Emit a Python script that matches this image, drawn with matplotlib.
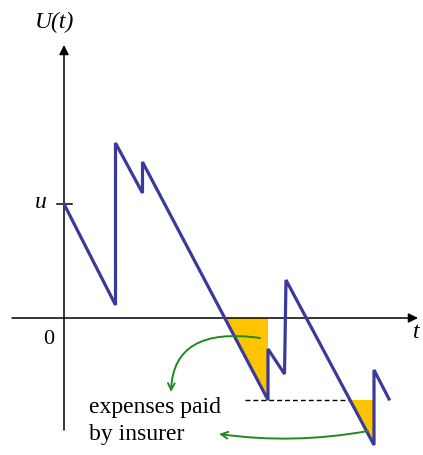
import numpy as np
import matplotlib
matplotlib.use("Agg")
import matplotlib.pyplot as plt

# Surplus process U(t): piecewise linear with jumps (premium income / claims)
t_pts = [0.0, 5.15, 5.15, 7.85, 7.85, 20.4, 20.4, 22.05, 22.2, 31.0, 31.0, 32.5]
U_pts = [11.4, 1.3, 17.5, 12.5, 15.6, -8.2, -3.1, -5.6, 3.8, -12.7, -5.2, -8.1]
u_level = 11.4
min_level = -8.2
dash_start = 18.1

BLUE = "#3a3a9c"
GOLD = "#FFC400"
GREEN = "#1f8a1f"

fig = plt.figure(figsize=(4.23, 4.55), dpi=100)
ax = fig.add_axes([0, 0, 1, 1])
ax.set_xlim(-6.4, 35.9)
ax.set_ylim(-13.7, 31.8)
ax.axis("off")

serif = ["Liberation Serif", "DejaVu Serif"]

# axes with arrows
ax.annotate("", xy=(35.4, 0), xytext=(-5.2, 0),
            arrowprops=dict(arrowstyle="-|>", color="black", lw=1.1,
                            mutation_scale=14, shrinkA=0, shrinkB=0))
ax.annotate("", xy=(0, 27.3), xytext=(0, -11.2),
            arrowprops=dict(arrowstyle="-|>", color="black", lw=1.1,
                            mutation_scale=14, shrinkA=0, shrinkB=0))
ax.plot([-0.7, 0.8], [u_level, u_level], color="black", lw=1.1)

t_arr = np.array(t_pts)
U_arr = np.array(U_pts)

# first ruin region: segment from index 4 to 5 crossing zero
t0, t1 = t_arr[4], t_arr[5]
u0, u1 = U_arr[4], U_arr[5]
tc = t0 + (u0 - 0) * (t1 - t0) / (u0 - u1)
ax.fill([tc, t1, t1], [0, 0, u1], color=GOLD, lw=0, zorder=2)

# second region: segment from index 8 to 9 crossing min_level
t0, t1 = t_arr[8], t_arr[9]
u0, u1 = U_arr[8], U_arr[9]
tc2 = t0 + (u0 - min_level) * (t1 - t0) / (u0 - u1)
ax.fill([tc2, t1, t1], [min_level, min_level, u1], color=GOLD, lw=0, zorder=2)

# dashed line at previous minimum
ax.plot([dash_start, tc2], [min_level, min_level], color="black", lw=1.0,
        ls=(0, (3.5, 2.2)), zorder=2)

# the path
ax.plot(t_arr, U_arr, color=BLUE, lw=2.3, solid_joinstyle="miter", zorder=3)

# green arrows
ax.annotate("", xy=(10.7, -7.4), xytext=(19.6, -2.0),
            arrowprops=dict(arrowstyle="->", color=GREEN, lw=1.4,
                            connectionstyle="angle3,angleA=-8,angleB=88",
                            mutation_scale=12, shrinkA=0, shrinkB=0), zorder=4)
ax.annotate("", xy=(15.5, -11.6), xytext=(30.4, -11.3),
            arrowprops=dict(arrowstyle="->", color=GREEN, lw=1.4,
                            connectionstyle="arc3,rad=-0.08",
                            mutation_scale=12, shrinkA=0, shrinkB=0), zorder=4)

# labels
ax.text(-0.9, 29.6, "U(t)", fontsize=17, family=serif, style="italic",
        ha="center", va="center")
ax.text(-2.3, 11.5, "u", fontsize=17, family=serif, style="italic",
        ha="center", va="center")
ax.text(-1.5, -2.2, "0", fontsize=16, family=serif, ha="center", va="center")
ax.text(35.2, -1.5, "t", fontsize=17, family=serif, style="italic",
        ha="center", va="center")
ax.text(2.5, -9.5, "expenses paid", fontsize=17, family=serif,
        ha="left", va="baseline")
ax.text(2.5, -12.2, "by insurer", fontsize=17, family=serif,
        ha="left", va="baseline")

fig.savefig("out.png", dpi=100)
